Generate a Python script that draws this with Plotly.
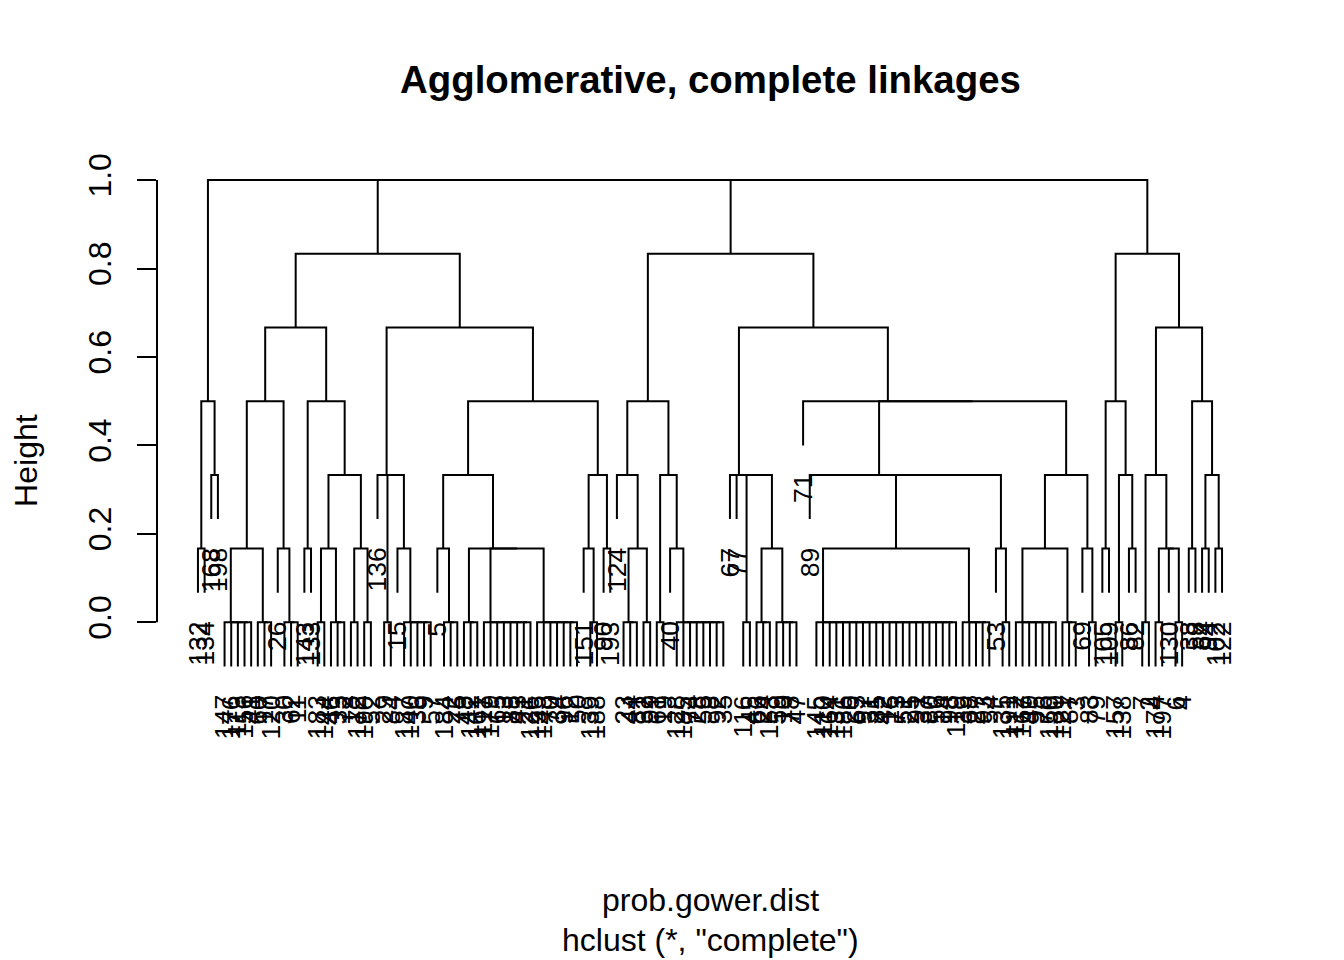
import plotly.graph_objects as go

# leaf labels, left to right in dendrogram order
leaf_labels = [
    "132", "134", "168", "198", "147", "176", "113", "156", "41", "60",
    "17", "120", "26", "30", "62", "11", "143", "133", "183", "144",
    "46", "33", "72", "18", "172", "190", "52", "136", "29", "84",
    "15", "187", "140", "36", "9", "57", "5", "184", "22", "75",
    "48", "142", "161", "117", "179", "65", "13", "88", "43", "21",
    "126", "195", "148", "70", "34", "96", "12", "50", "151", "139",
    "188", "90", "193", "124", "23", "44", "81", "32", "99", "61",
    "19", "40", "128", "185", "74", "28", "55", "8", "92", "35",
    "67", "77", "116", "45", "66", "24", "153", "59", "10", "78",
    "47", "71", "89", "145", "110", "164", "131", "186", "20", "63",
    "97", "31", "85", "42", "16", "73", "51", "25", "91", "37",
    "80", "56", "14", "98", "119", "39", "68", "27", "93", "54",
    "53", "135", "191", "112", "167", "49", "95", "76", "150", "180",
    "121", "87", "3", "69", "83", "79", "105", "109", "157", "138",
    "86", "82", "7", "2", "174", "197", "130", "6", "4", "38",
    "58", "64", "94", "102", "122",
]

# merge structure: [level, child, child, ...], height = level / 6
# ints are leaf positions (1-based) in leaf_labels
# several children at one level = ties, merged right-nested as hclust drew them
cluster_a = [3, [1, 1, 2], [2, 3, 4]]

cluster_b_left = [4,
    [3, [1, [0, 5, 6, 7, 8, 9], [0, 10, 11, 12]],
        [1, 13, [0, 14, 15, 16]]],
    [3, [1, 17, 18],
        [2, [1, [0, 19, 20], [0, 21, 22, 23]],
            [1, [0, 24, 25], [0, 26, 27]]]],
]

cluster_b_right = [4,
    [2, 28, [0, 29, 30], [1, 31, [0, 32, 33, 34, 35, 36]]],
    [3, [2, [1, 37, [0, 38, 39, 40]],
            [1, [0, 41, 42, 43],
                [0, 44, 45, 46, 47, 48, 49, 50, 51],
                [0, 52, 53, 54, 55, 56, 57, 58]]],
        [2, [1, 59, [0, 60, 61]], [1, 62, 63]]],
]

cluster_c_left = [3,
    [2, 64, [1, [0, 65, 66, 67], [0, 68, 69]]],
    [2, [0, 70, 71], [1, 72, [0, 73, 74, 75, 76, 77, 78, 79, 80]]],
]

cluster_c_right = [4,
    [2, 81, 82, [0, 83, 84], [1, [0, 85, 86, 87], [0, 88, 89, 90, 91]]],
    [3, 92,
        [2, 93,
            [1, [0, 94, 95, 96, 97, 98, 99, 100, 101, 102, 103, 104,
                 105, 106, 107, 108, 109, 110, 111, 112, 113, 114, 115],
                [0, 116, 117, 118, 119, 120]],
            [1, 121, [0, 122, 123]]],
        [2, [1, [0, 124, 125, 126, 127, 128, 129, 130], [0, 131, 132, 133]],
            [1, 134, [0, 135, 136]]]],
]

cluster_d = [5,
    [3, [1, 137, 138], [2, [0, 139, 140], [1, 141, 142]]],
    [4, [2, [0, 143, 144], [1, [0, 145, 146], 147, [0, 148, 149]]],
        [3, [1, 150, 151], [2, [1, 152, 153], [1, 154, 155]]]],
]

tree = [6, cluster_a, [5, cluster_b_left, cluster_b_right],
        [5, cluster_c_left, cluster_c_right], cluster_d]

STEP = 1 / 6
HANG = 0.1

seg_x, seg_y = [], []
leaf_end = {}


def child_bottom(child, h):
    x, ch, leaf = child
    if leaf is not None:
        leaf_end[leaf] = h - HANG
        return h - HANG
    return ch


def place(node):
    """returns (x, height, leaf id or None)"""
    if isinstance(node, int):
        return float(node), None, node
    h = node[0] * STEP
    kids = [place(k) for k in node[1:]]
    right = kids[-1]
    for left in reversed(kids[:-1]):
        yl = child_bottom(left, h)
        yr = child_bottom(right, h)
        seg_x.extend([left[0], left[0], right[0], right[0], None])
        seg_y.extend([yl, h, h, yr, None])
        right = ((left[0] + right[0]) / 2, h, None)
    return right


place(tree)

n = len(leaf_labels)
font = "Liberation Sans, Arial, Helvetica, sans-serif"

fig = go.Figure()
fig.add_trace(go.Scatter(
    x=seg_x, y=seg_y,
    mode="lines",
    line=dict(color="black", width=2),
    hoverinfo="skip",
    showlegend=False,
))

annotations = []
for i, lab in enumerate(leaf_labels, start=1):
    annotations.append(dict(
        x=i, y=leaf_end[i], text=lab,
        xref="x", yref="y",
        textangle=-90, xanchor="center", yanchor="top",
        yshift=-27, showarrow=False,
        font=dict(family=font, size=26.5, color="black"),
    ))

annotations += [
    dict(x=0.5, y=1.127, xref="paper", yref="paper", showarrow=False,
         text="<b>Agglomerative, complete linkages</b>",
         xanchor="center", yanchor="middle",
         font=dict(family=font, size=38.4, color="black")),
    dict(x=0.5, y=-0.224, xref="paper", yref="paper", showarrow=False,
         text="prob.gower.dist", xanchor="center", yanchor="middle",
         font=dict(family=font, size=32, color="black")),
    dict(x=0.5, y=-0.290, xref="paper", yref="paper", showarrow=False,
         text='hclust (*, "complete")', xanchor="center", yanchor="middle",
         font=dict(family=font, size=32, color="black")),
    dict(x=-0.119, y=0.5, xref="paper", yref="paper", showarrow=False,
         text="Height", textangle=-90, xanchor="center", yanchor="middle",
         borderpad=0,
         font=dict(family=font, size=32, color="black")),
]

tick_vals = [0.0, 0.2, 0.4, 0.6, 0.8, 1.0]
tick_text = ["0.0", "0.2", "0.4", "0.6", "0.8", "1.0"]

# the page body adds an 8px margin, so the figure is drawn 8px smaller
fig.update_layout(
    width=1336, height=952,
    margin=dict(l=149, r=81, t=149, b=196),
    paper_bgcolor="white", plot_bgcolor="white",
    showlegend=False,
    annotations=annotations,
    xaxis=dict(range=[1 - 0.04 * (n - 1), n + 0.04 * (n - 1)],
               visible=False, fixedrange=True),
    yaxis=dict(range=[-0.3206, 1.0523],
               tickvals=tick_vals, ticktext=tick_text,
               ticks="outside", ticklen=19, tickwidth=2, tickcolor="black",
               tickangle=-90, tickfont=dict(family=font, size=32, color="black"),
               ticklabelstandoff=13,
               showline=False, zeroline=False, showgrid=False),
    shapes=[dict(type="line", xref="paper", yref="y", x0=0, x1=0, y0=0, y1=1,
                 line=dict(color="black", width=2))],
)

fig.write_html("out.html")
